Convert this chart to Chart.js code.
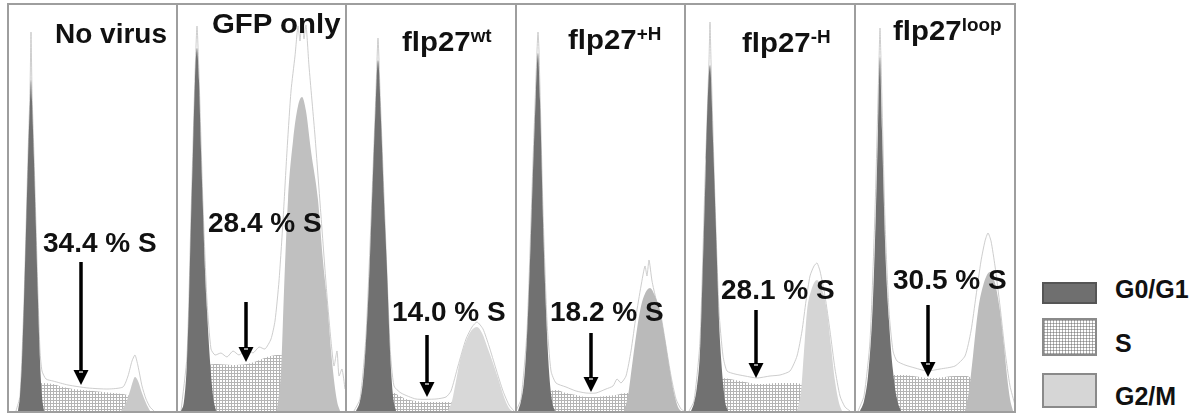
<!DOCTYPE html>
<html><head><meta charset="utf-8">
<script src="https://cdn.jsdelivr.net/npm/chart.js@4.4.1/dist/chart.umd.min.js"></script>
<style>
html,body{margin:0;padding:0;background:#fff;}
body{width:1198px;height:413px;overflow:hidden;position:relative;font-family:"Liberation Sans",Arial,Helvetica,sans-serif;}
.pan{position:absolute;top:4px;height:407px;}
.pan canvas{position:absolute;left:0;top:0;}
.frame{position:absolute;border:2px solid #9e9e9e;box-sizing:border-box;pointer-events:none;z-index:5;}
.div{position:absolute;top:4px;height:407px;width:2px;background:#9e9e9e;z-index:5;}
.lbl{position:absolute;font-weight:bold;font-size:28px;line-height:28px;white-space:nowrap;color:#111;z-index:6;transform-origin:0 0;}
.lbl sup{font-size:18px;vertical-align:9px;line-height:0;}
.leg{position:absolute;font-weight:bold;font-size:25px;line-height:25px;white-space:nowrap;color:#111;}
.sw{position:absolute;left:1042px;width:55px;box-sizing:border-box;border:2px solid #888;}
</style>
</head><body>
<script>
// ---------------- DATA (DNA content channel, cell count) ----------------
const panelNames = ["No virus","GFP only","flp27|wt","flp27|+H","flp27|-H","flp27|loop"];
const sPhasePct = ["34.4","28.4","14.0","18.2","28.1","30.5"];
const legendLabels = ["G0/G1","S","G2/M"];

const p1G1 = [[10,0],[12,15],[14,50],[16,110],[18,180],[20,250],[22,310],[23,331],[24,310],[26,250],[28,180],[30,110],[32,50],[34,15],[36,0]];
const p1S  = [[18,0],[24,10],[30,24],[34,28],[45,27],[55,24],[65,22],[75,21],[85,20],[95,19],[105,18],[115,17],[122,15],[130,10],[136,5],[142,0]];
const p1G2 = [[113,0],[118,8],[122,20],[125,30],[127,34],[130,30],[134,18],[138,8],[142,0]];
const p1Raw= [[8,0],[12,15],[16,110],[20,255],[22,320],[23,379],[24,320],[26,255],[28,185],[30,115],[32,60],[34,40],[38,32],[45,30],[60,26],[80,23],[100,22],[115,24],[120,35],[124,50],[127,56],[130,45],[134,25],[138,12],[142,4],[146,0]];

const p2G1 = [[4,0],[7,10],[10,50],[12,110],[14,190],[16,260],[18,330],[20,363],[22,330],[24,260],[26,200],[28,140],[30,100],[33,50],[36,15],[39,0]];
const p2S  = [[18,0],[22,15],[26,35],[30,46],[40,47],[55,46],[70,47],[80,50],[90,54],[100,56],[110,55],[116,48],[120,38],[125,25],[130,12],[135,4],[140,0]];
const p2G2 = [[100,0],[104,40],[107,120],[111,211],[116,270],[121,305],[125,314],[129,300],[134,260],[141,211],[146,150],[150,111],[155,50],[160,10],[163,0]];
const p2Raw= [[4,0],[10,55],[14,195],[18,335],[20,385],[22,335],[26,205],[30,110],[34,62],[38,56],[44,58],[50,54],[56,60],[62,56],[70,62],[76,58],[82,64],[88,62],[94,72],[98,90],[102,130],[106,190],[110,260],[114,320],[118,355],[121,385],[123,370],[125,392],[127,372],[129,386],[132,345],[138,275],[144,195],[150,115],[154,70],[157,45],[160,60],[162,35],[165,42],[168,22]];

const p3G1 = [[10,0],[14,10],[17,30],[20,70],[23,130],[26,210],[29,290],[32,351],[35,290],[38,210],[41,140],[44,60],[47,15],[50,0]];
const p3S  = [[28,0],[32,8],[38,16],[45,19],[52,16],[60,12],[70,10],[80,9],[90,9],[100,9],[110,8],[120,7],[130,6],[140,4],[150,2],[156,0]];
const p3G2 = [[102,0],[106,10],[110,30],[115,55],[120,70],[125,80],[131,84],[136,78],[142,62],[148,45],[153,30],[158,14],[163,3],[166,0]];
const p3Raw= [[8,0],[14,12],[20,75],[26,215],[30,320],[32,373],[34,320],[38,215],[44,65],[48,25],[55,18],[70,12],[90,12],[100,14],[105,20],[112,45],[120,72],[126,84],[131,89],[137,82],[143,65],[150,42],[157,20],[163,6],[168,0]];

const p4G1 = [[2,0],[5,10],[8,30],[11,75],[14,150],[17,240],[20,320],[22,358],[24,310],[27,190],[30,100],[33,40],[36,10],[39,0]];
const p4S  = [[22,0],[28,10],[34,19],[40,21],[50,18],[60,16],[70,14],[80,14],[90,15],[100,16],[110,18],[118,17],[125,13],[132,8],[138,4],[145,0]];
const p4G2 = [[108,0],[112,15],[116,45],[120,75],[124,100],[128,115],[134,123],[139,115],[144,100],[149,72],[154,40],[158,18],[162,4],[165,0]];
const p4Raw= [[0,0],[5,12],[11,80],[17,250],[21,360],[22,379],[23,360],[27,200],[31,90],[35,40],[40,28],[50,24],[60,20],[70,18],[80,18],[90,22],[97,25],[101,32],[105,28],[110,35],[115,60],[120,95],[125,125],[129,145],[131,135],[133,151],[136,130],[140,112],[145,95],[150,65],[155,35],[160,12],[165,2],[168,0]];

const p5G1 = [[6,0],[9,8],[12,25],[15,60],[18,150],[21,250],[25,346],[28,270],[31,180],[34,90],[37,40],[40,10],[43,0]];
const p5S  = [[16,0],[22,12],[28,26],[35,33],[45,32],[55,30],[65,28],[72,27],[80,27],[90,28],[100,28],[110,28],[118,26],[125,20],[132,14],[140,6],[148,0]];
const p5G2 = [[112,0],[116,20],[119,60],[122,100],[126,120],[132,131],[137,122],[142,100],[146,65],[150,30],[154,8],[157,0]];
const p5Raw= [[4,0],[9,10],[15,70],[20,230],[24,350],[25,389],[26,350],[30,210],[34,100],[38,55],[42,40],[50,37],[60,35],[72,33],[85,35],[95,36],[105,40],[112,55],[117,80],[121,110],[125,135],[129,145],[132,148],[135,140],[140,115],[145,80],[150,42],[155,15],[160,4],[165,0]];

const p6G1 = [[5,0],[9,10],[13,35],[17,90],[20,170],[23,280],[25,354],[27,280],[30,170],[34,90],[38,40],[42,12],[46,0]];
const p6S  = [[18,0],[25,15],[32,30],[38,36],[48,36],[58,35],[65,34],[72,33],[80,33],[90,34],[100,35],[110,35],[116,33],[122,25],[130,14],[136,6],[142,0]];
const p6G2 = [[110,0],[114,20],[118,55],[123,100],[128,125],[135,139],[140,128],[145,100],[149,65],[152,35],[155,12],[158,0]];
const p6Raw= [[3,0],[9,15],[15,70],[20,200],[24,350],[25,383],[26,350],[30,190],[34,100],[38,60],[42,50],[50,46],[60,43],[72,40],[85,42],[100,45],[110,55],[116,80],[121,115],[126,150],[130,170],[133,178],[136,170],[140,145],[145,105],[150,60],[155,25],[160,6]];

// arrow annotation: channel, count at tail, count at tip
const arrowCh  = [73,69,81,75,71,73];
const arrowTop = [149,109,76,78,101,106];
const arrowTip = [26,49,14,19,33,34];

// ---------------- LAYOUT / STYLE ----------------
const panelLeft  = [8,177,346,516,685,855];
const panelRight = [177,346,516,685,855,1015];
const countMax = 407;
const g2Colors = ["#c9c9c9","#c0c0c0","#d8d8d8","#bababa","#d5d5d5","#bcbcbc"];
const g1Color = "#717171";
const titlePos = [[55,20],[212,10],[402,28],[568,26],[742,29],[893,17]];
const titleStretch = [1.0,1.05,1.05,1.05,1.05,1.05];
const pctPos   = [[43,229],[208,209],[392,298],[550,298],[721,276],[893,266]];

const G1 = [p1G1,p2G1,p3G1,p4G1,p5G1,p6G1];
const S  = [p1S,p2S,p3S,p4S,p5S,p6S];
const G2 = [p1G2,p2G2,p3G2,p4G2,p5G2,p6G2];
const RAW= [p1Raw,p2Raw,p3Raw,p4Raw,p5Raw,p6Raw];

function hatch(){
  const c=document.createElement('canvas'); c.width=3; c.height=3;
  const x=c.getContext('2d');
  x.fillStyle='rgba(105,105,105,0.5)';
  x.fillRect(0,0,3,1); x.fillRect(0,1,1,2);
  return x.createPattern(c,'repeat');
}
const hatchPattern = hatch();
const toXY = a => a.map(p=>({x:p[0],y:p[1]}));

const arrowPlugin = {
  id:'arrow',
  afterDatasetsDraw(chart, args, o){
    const {ctx, scales:{x,y}} = chart;
    const px = Math.round(x.getPixelForValue(o.ch)), top = y.getPixelForValue(o.top), tip = y.getPixelForValue(o.tip);
    ctx.save();
    ctx.strokeStyle='#000'; ctx.lineWidth=3.5;
    ctx.beginPath(); ctx.moveTo(px, top); ctx.lineTo(px, tip-12); ctx.stroke();
    ctx.fillStyle='#000';
    ctx.beginPath(); ctx.moveTo(px-7.5, tip-15); ctx.lineTo(px+7.5, tip-15); ctx.lineTo(px, tip); ctx.closePath(); ctx.fill();
    ctx.strokeStyle='#fff'; ctx.lineWidth=1.2;
    ctx.beginPath(); ctx.moveTo(px-2,tip-13); ctx.lineTo(px+2,tip-13); ctx.stroke();
    ctx.restore();
  }
};

for(let i=0;i<6;i++){
  const w = panelRight[i]-panelLeft[i];
  const div=document.createElement('div'); div.className='pan';
  div.style.left=panelLeft[i]+'px'; div.style.width=w+'px';
  const cv=document.createElement('canvas'); cv.width=w; cv.height=407;
  cv.style.width=w+'px'; cv.style.height='407px';
  div.appendChild(cv); document.body.appendChild(div);
  const common={pointRadius:0,borderWidth:0,cubicInterpolationMode:'monotone',fill:'origin'};
  new Chart(cv,{
    type:'line',
    data:{datasets:[
      {...common,label:'G2/M',data:toXY(G2[i]),backgroundColor:g2Colors[i],borderColor:'rgba(0,0,0,0)'},
      {...common,label:'G0/G1',data:toXY(G1[i]),backgroundColor:g1Color,borderColor:'rgba(0,0,0,0)'},
      {...common,label:'S',data:toXY(S[i]),backgroundColor:hatchPattern,borderColor:'rgba(0,0,0,0)'},
      {label:'raw',data:toXY(RAW[i]),pointRadius:0,fill:false,borderWidth:1,borderColor:'rgba(200,200,200,0.9)',tension:0.2}
    ]},
    options:{
      responsive:false,animation:false,devicePixelRatio:1,
      layout:{padding:0},
      scales:{
        x:{type:'linear',min:0,max:w,display:false},
        y:{min:0,max:countMax,display:false}
      },
      plugins:{legend:{display:false},tooltip:{enabled:false},
        arrow:{ch:arrowCh[i],top:arrowTop[i],tip:arrowTip[i]}}
    },
    plugins:[arrowPlugin]
  });
  // title
  const t=document.createElement('div'); t.className='lbl';
  const parts=panelNames[i].split('|');
  t.innerHTML = parts[0] + (parts[1]?'<sup>'+parts[1]+'</sup>':'');
  t.style.left=titlePos[i][0]+'px'; t.style.top=titlePos[i][1]+'px';
  t.style.transform='scaleX('+titleStretch[i]+')';
  document.body.appendChild(t);
  const p=document.createElement('div'); p.className='lbl';
  p.textContent = sPhasePct[i]+' % S';
  p.style.left=pctPos[i][0]+'px'; p.style.top=pctPos[i][1]+'px';
  document.body.appendChild(p);
  if(i>0){const d=document.createElement('div'); d.className='div'; d.style.left=(panelLeft[i]-1)+'px'; document.body.appendChild(d);}
}
const fr=document.createElement('div'); fr.className='frame';
fr.style.left='7px'; fr.style.top='3px'; fr.style.width='1009px'; fr.style.height='410px';
document.body.appendChild(fr);

// legend
const swTop=[282,318,373], swH=[22,38,35], legTop=[277,331,384];
const swStyle=[
  'background:#6f6f6f;border-color:#555;',
  'background-color:#fff;background-image:linear-gradient(rgba(105,105,105,0.5) 1px,transparent 1px),linear-gradient(90deg,rgba(105,105,105,0.5) 1px,transparent 1px);background-size:3px 3px;border-color:#8a8a8a;',
  'background:#d6d6d6;border-color:#8a8a8a;'
];
for(let k=0;k<3;k++){
  const s=document.createElement('div'); s.className='sw';
  s.style.cssText+=swStyle[k]; s.style.top=swTop[k]+'px'; s.style.height=swH[k]+'px';
  document.body.appendChild(s);
  const l=document.createElement('div'); l.className='leg'; l.textContent=legendLabels[k];
  l.style.left='1115px'; l.style.top=legTop[k]+'px';
  document.body.appendChild(l);
}
</script>
</body></html>
